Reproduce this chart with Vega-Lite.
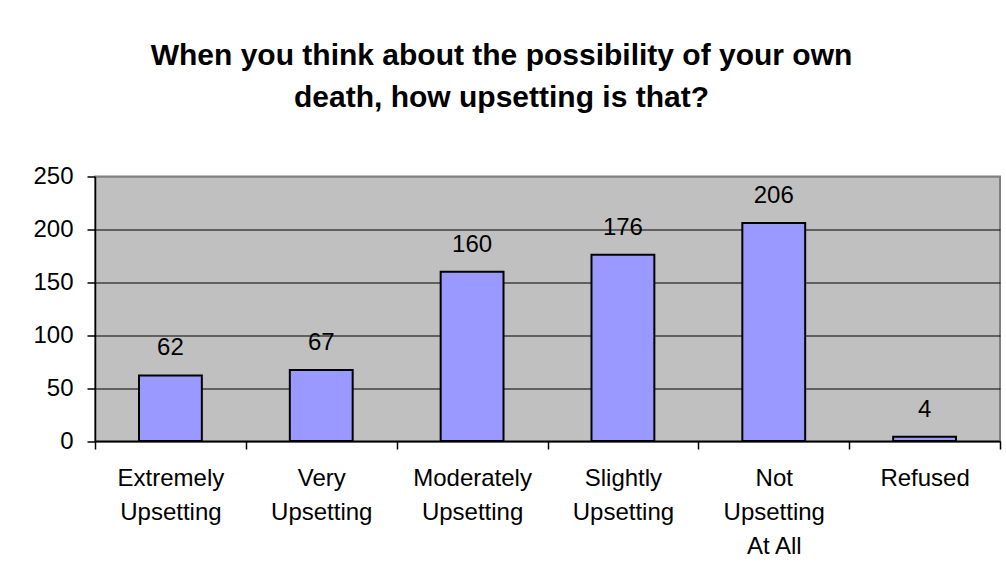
{
  "$schema": "https://vega.github.io/schema/vega-lite/v6.json",
  "autosize": "none",
  "width": 905,
  "height": 264.5,
  "padding": {"left": 95, "top": 176.5, "right": 5.5, "bottom": 143},
  "background": "white",
  "title": {
    "text": ["When you think about the possibility of your own", "death, how upsetting is that?"],
    "font": "Liberation Sans",
    "fontSize": 30,
    "fontWeight": "bold",
    "color": "black",
    "lineHeight": 42,
    "anchor": "middle",
    "frame": "group",
    "dx": -46,
    "offset": 52
  },
  "data": {
    "values": [
      {"category": "Extremely Upsetting", "count": 62},
      {"category": "Very Upsetting", "count": 67},
      {"category": "Moderately Upsetting", "count": 160},
      {"category": "Slightly Upsetting", "count": 176},
      {"category": "Not Upsetting At All", "count": 206},
      {"category": "Refused", "count": 4}
    ]
  },
  "encoding": {
    "x": {
      "field": "category",
      "type": "nominal",
      "sort": null,
      "title": null,
      "scale": {"paddingInner": 0, "paddingOuter": 0},
      "axis": {
        "labelAngle": 0,
        "labelExpr": "datum.value == null ? '' : (datum.value == 'Not Upsetting At All' ? ['Not', 'Upsetting', 'At All'] : split(datum.value, ' '))",
        "labelFont": "Liberation Sans",
        "labelFontSize": 24,
        "labelColor": "black",
        "labelLineHeight": 34,
        "labelPadding": 17,
        "labelBaseline": "top",
        "tickBand": "extent",
        "tickSize": 8,
        "tickColor": "black",
        "tickWidth": 1.5,
        "domainColor": "black",
        "domainWidth": 1.5,
        "grid": false
      }
    },
    "y": {
      "field": "count",
      "type": "quantitative",
      "title": null,
      "scale": {"domain": [0, 250], "nice": false},
      "axis": {
        "values": [0, 50, 100, 150, 200, 250],
        "labelFont": "Liberation Sans",
        "labelFontSize": 24,
        "labelColor": "black",
        "labelPadding": 14,
        "tickSize": 8,
        "tickColor": "black",
        "tickWidth": 1.5,
        "domainColor": "black",
        "domainWidth": 1.5,
        "grid": true,
        "gridColor": {"condition": {"test": "datum.value == 250", "value": "#808080"}, "value": "black"},
        "gridWidth": 1,
        "gridOpacity": 1
      }
    }
  },
  "layer": [
    {
      "mark": {"type": "bar", "width": {"band": 0.4167}, "fill": "#9999FF", "stroke": "black", "strokeWidth": 2}
    },
    {
      "mark": {"type": "text", "baseline": "alphabetic", "dy": -20, "font": "Liberation Sans", "fontSize": 24, "color": "black"},
      "encoding": {"text": {"field": "count", "type": "quantitative"}}
    }
  ],
  "config": {
    "view": {"fill": "#C0C0C0", "stroke": "#808080", "strokeWidth": 2}
  }
}
